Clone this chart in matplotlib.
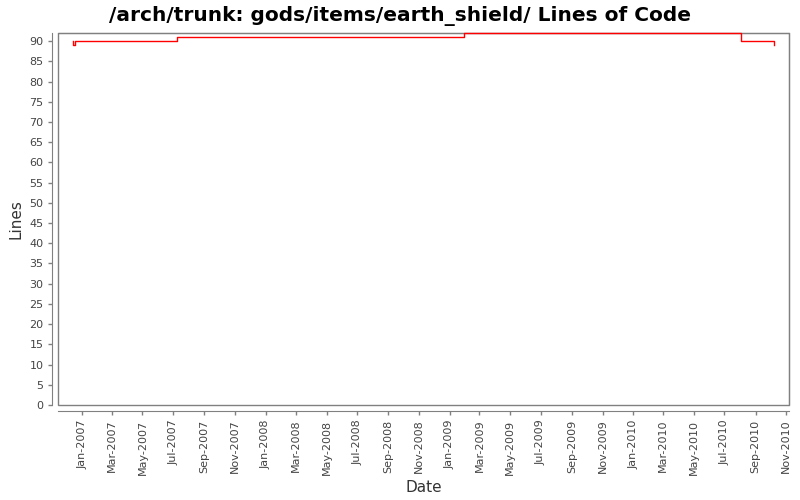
import matplotlib
matplotlib.use('Agg')
import matplotlib.pyplot as plt
import matplotlib.dates as mdates
from matplotlib.patches import Rectangle
import pandas as pd

# lines of code over time (step chart)
dates = ['2006-12-13', '2006-12-13', '2006-12-17', '2007-07-09',
         '2009-01-30', '2010-08-04', '2010-10-07']
lines = [90, 89, 90, 91, 92, 90, 89]
title = '/arch/trunk: gods/items/earth_shield/ Lines of Code'

d = pd.to_datetime(dates)

fig = plt.figure(figsize=(8, 5), dpi=100)
ax = fig.add_axes([58 / 800, 1 - 405 / 500, 730.7 / 800, 372 / 500])

ax.plot(d, lines, drawstyle='steps-post', color='#ff0000', lw=1, clip_on=False, zorder=3)

ax.set_xlim(pd.Timestamp('2006-11-14'), pd.Timestamp('2010-11-06'))
ax.set_ylim(0, 92)
ax.set_yticks(range(0, 95, 5))

ax.xaxis.set_major_locator(mdates.MonthLocator(bymonth=[1, 3, 5, 7, 9, 11]))
ax.xaxis.set_major_formatter(mdates.DateFormatter('%b-%Y'))
ax.tick_params(axis='x', labelrotation=90)

gray = '#808080'
for s in ['top', 'right']:
    ax.spines[s].set_color(gray)
for s in ['left', 'bottom']:
    ax.spines[s].set_position(('outward', 4))
    ax.spines[s].set_color(gray)
ax.add_patch(Rectangle((0, 0), 1, 1, transform=ax.transAxes, fill=False,
                       edgecolor=gray, lw=1, zorder=2, clip_on=False))

ax.tick_params(axis='both', colors=gray, labelcolor='#444444', labelsize=8, length=3, width=1)
ax.set_ylabel('Lines', fontsize=11, color='#333333')
ax.set_xlabel('Date', fontsize=11, color='#333333')
fig.suptitle(title, fontsize=14.5, fontweight='bold', y=0.988, va='top')

fig.savefig('out.png', dpi=100)
